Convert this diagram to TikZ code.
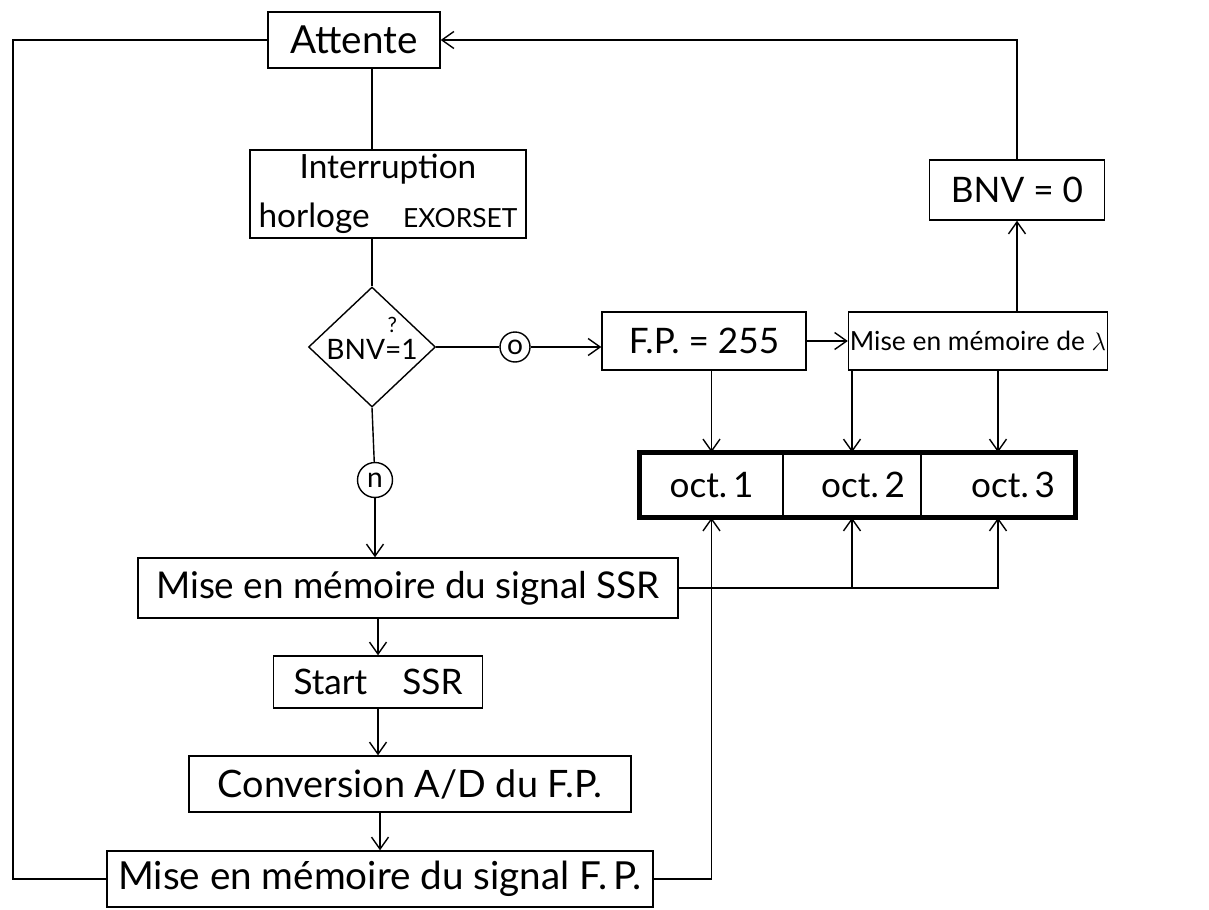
\documentclass[tikz,border=0pt]{standalone}
\usepackage{fontspec}
\setmainfont{Lato}
\usetikzlibrary{shapes.geometric,fit,arrows.meta}

\begin{document}
\begin{tikzpicture}[x=0.02cm,y=-0.02cm,line width=0.8pt,
  >={Straight Barb[length=2.4mm,width=3.4mm]},
  box/.style={draw,inner sep=2pt,font=\fontsize{20}{24}\selectfont},
  cell/.style={draw,inner sep=2pt,minimum height=1.28cm,font=\fontsize{20}{24}\selectfont},
  dec/.style={draw,diamond,inner sep=0pt,minimum width=2.54cm,minimum height=2.40cm},
  tag/.style={draw,circle,inner sep=0pt,minimum size=0.6cm,font=\fontsize{16}{18}\selectfont}]
\useasboundingbox (0,0) rectangle (1209,909);
\node[box,minimum width=3.44cm,minimum height=1.12cm,font=\fontsize{22}{26}\selectfont] (att) at (354,40) {Attente};
\node[box,minimum width=5.52cm,minimum height=1.76cm,align=center,font=\fontsize{19}{28}\selectfont] (irq) at (388,194) {Interruption\\horloge\quad{\fontsize{15}{18}\selectfont EXORSET}};
\node[dec,label={[align=left,yshift=5pt,font=\fontsize{16}{18}\selectfont]center:{\hphantom{BNV}\kern1.5pt{\fontsize{12}{13}\selectfont ?}\\[-3pt]BNV=1}}] (bnv1) at (372,347) {};
\node[tag] (c0) at (515,347) {o};
\node[tag,minimum size=0.70cm] (cn) at (375,480) {n};
\node[box,minimum width=4.08cm,minimum height=1.16cm] (fp) at (704,341) {F.P. = 255};
\node[box,minimum width=5.18cm,minimum height=1.16cm,inner sep=0pt,font=\fontsize{15}{18}\selectfont] (lam) at (978,341) {Mise en mémoire de $\lambda$};
\node[box,minimum width=3.50cm,minimum height=1.20cm] (bnv0) at (1017,190) {BNV = 0};
\node[cell,minimum width=2.86cm] (oct1) at (711.5,485) {oct.\,1};
\node[cell,minimum width=2.76cm,inner xsep=0.32cm,text width=2.12cm,align=right] (oct2) at (852,485) {oct.\,2};
\node[cell,minimum width=3.08cm,inner xsep=0.40cm,text width=2.28cm,align=right] (oct3) at (998,485) {oct.\,3};
\node[draw,line width=2.6pt,fit=(oct1)(oct3),inner sep=0pt] (reg) {};
\node[box,minimum width=10.80cm,minimum height=1.20cm,font=\fontsize{21}{24}\selectfont] (ssr) at (408,588) {Mise en mémoire du signal SSR};
\node[box,minimum width=4.18cm,minimum height=1.04cm] (start) at (378,682) {Start\quad SSR};
\node[box,minimum width=8.84cm,minimum height=1.12cm,font=\fontsize{21.5}{24}\selectfont] (conv) at (410,784) {Conversion A/D du F.P.};
\node[box,minimum width=10.92cm,minimum height=1.12cm,font=\fontsize{22}{24}\selectfont] (fpm) at (380,879) {Mise en mémoire du signal F.\,P.};
\coordinate (lft) at (13,40);
\draw[->] (bnv0.north) |- (att.east);
\draw (att.south -| bnv1.north) -- (irq.north -| bnv1.north);
\draw (irq.south -| bnv1.north) -- (bnv1.north);
\draw (bnv1.east) -- (c0);
\draw[->] (c0) -- (c0 -| fp.west);
\draw[->] (fp.east) -- (lam.west);
\draw[->] (lam.north -| bnv0.south) -- (bnv0.south);
\draw[->] (fp.south -| oct1.north) -- (oct1.north);
\draw[->] (lam.south -| oct2.north) -- (oct2.north);
\draw[->] (lam.south -| oct3.north) -- (oct3.north);
\draw (bnv1.south) -- (cn);
\draw[->] (cn) -- (cn |- ssr.north);
\draw[->] (ssr.south -| start.north) -- (start.north);
\draw[->] (start.south) -- (start.south |- conv.north);
\draw[->] (conv.south -| fpm.north) -- (fpm.north);
\draw (att.west) -| (lft) |- (fpm.west);
\draw[->] (fpm.east) -| (oct1.south);
\draw[->] (ssr.east) -| (oct3.south);
\draw[->] (ssr.east -| oct2.south) -- (oct2.south);
\end{tikzpicture}
\end{document}
